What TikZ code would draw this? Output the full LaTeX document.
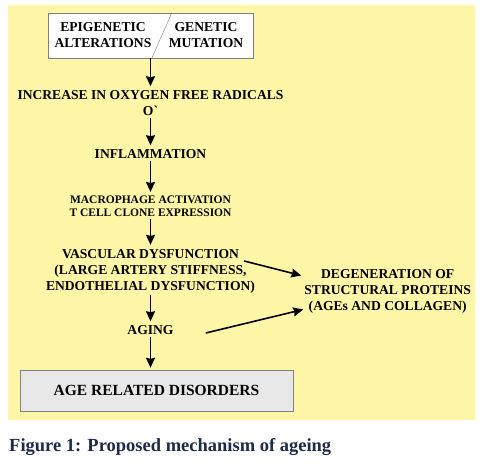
\documentclass[tikz,border=0pt]{standalone}
\usepackage{fontspec}
\setmainfont{Liberation Serif}
\usetikzlibrary{shapes,arrows,arrows.meta,positioning,calc}
\definecolor{bgyellow}{RGB}{255,246,168}
\definecolor{boxgray}{RGB}{232,232,232}
\definecolor{capblue}{RGB}{30,42,74}
\tikzstyle{startstop} = [rectangle, minimum width=205pt, minimum height=45pt, draw=gray, fill=white]
\tikzstyle{stage} = [align=center, inner sep=2pt, font=\bfseries\fontsize{13.6}{16}\selectfont]
\tikzstyle{smallstage} = [stage, font=\bfseries\fontsize{11.5}{13}\selectfont]
\tikzstyle{disorder} = [rectangle, minimum width=273pt, minimum height=41pt, draw=gray, fill=boxgray, font=\bfseries\fontsize{15.5}{18}\selectfont]
\tikzstyle{arrow} = [line width=1.6pt,-{Stealth[length=10pt,width=9pt,inset=1pt]},shorten >=2pt]
\begin{document}
\begin{tikzpicture}[x=1pt,y=1pt]
\useasboundingbox (0,0) rectangle (484,-463);
\fill [bgyellow] (8,-5) rectangle (475,-420);

\node (start) [startstop] at (150.5,-35.5) {};
\node (epi) [stage, xshift=-47.5pt] at (start) {EPIGENETIC\\ALTERATIONS};
\node (gen) [stage, xshift=55.5pt] at (start) {GENETIC\\MUTATION};
\draw [gray] ($(start.north west)+(124,0)$) -- ($(start.south west)+(104,0)$);

\node (incr) [stage, below of=start, node distance=67.5pt] {INCREASE IN OXYGEN FREE RADICALS\\O\textasciigrave};
\node (inflam) [stage, below of=incr, node distance=51pt] {INFLAMMATION};
\node (macro) [smallstage, below of=inflam, node distance=52.5pt] {MACROPHAGE ACTIVATION\\T CELL CLONE EXPRESSION};
\node (vasc) [stage, below of=macro, node distance=64.5pt] {VASCULAR DYSFUNCTION\\(LARGE ARTERY STIFFNESS,\\ENDOTHELIAL DYSFUNCTION)};
\node (aging) [stage, below of=vasc, node distance=59pt] {AGING};
\node (dis) [disorder, below of=aging, node distance=60.5pt, xshift=6pt] {AGE RELATED DISORDERS};

\node (degen) [stage, right=45pt of vasc.east, yshift=-20pt] {DEGENERATION OF\\STRUCTURAL PROTEINS\\(AGEs AND COLLAGEN)};

%arrows
\draw [arrow] (start) -- (incr);
\draw [arrow] (incr) -- (inflam);
\draw [arrow] (inflam) -- (macro);
\draw [arrow] (macro) -- (vasc);
\draw [arrow] (vasc) -- (aging);
\draw [arrow] (aging) -- (aging |- dis.north);

\draw [arrow] ($(vasc.east)+(-13,10)$) -- ($(degen.west)+(1,15)$);
\draw [arrow] ($(aging.east)+(30,-3)$) -- ($(degen.west)+(3,-18)$);

\node (caption) [anchor=west, inner sep=0pt, text=capblue, font=\bfseries\fontsize{18.5}{22}\selectfont] at (9,-447) {Figure 1: Proposed mechanism of ageing};
\end{tikzpicture}
\end{document}
